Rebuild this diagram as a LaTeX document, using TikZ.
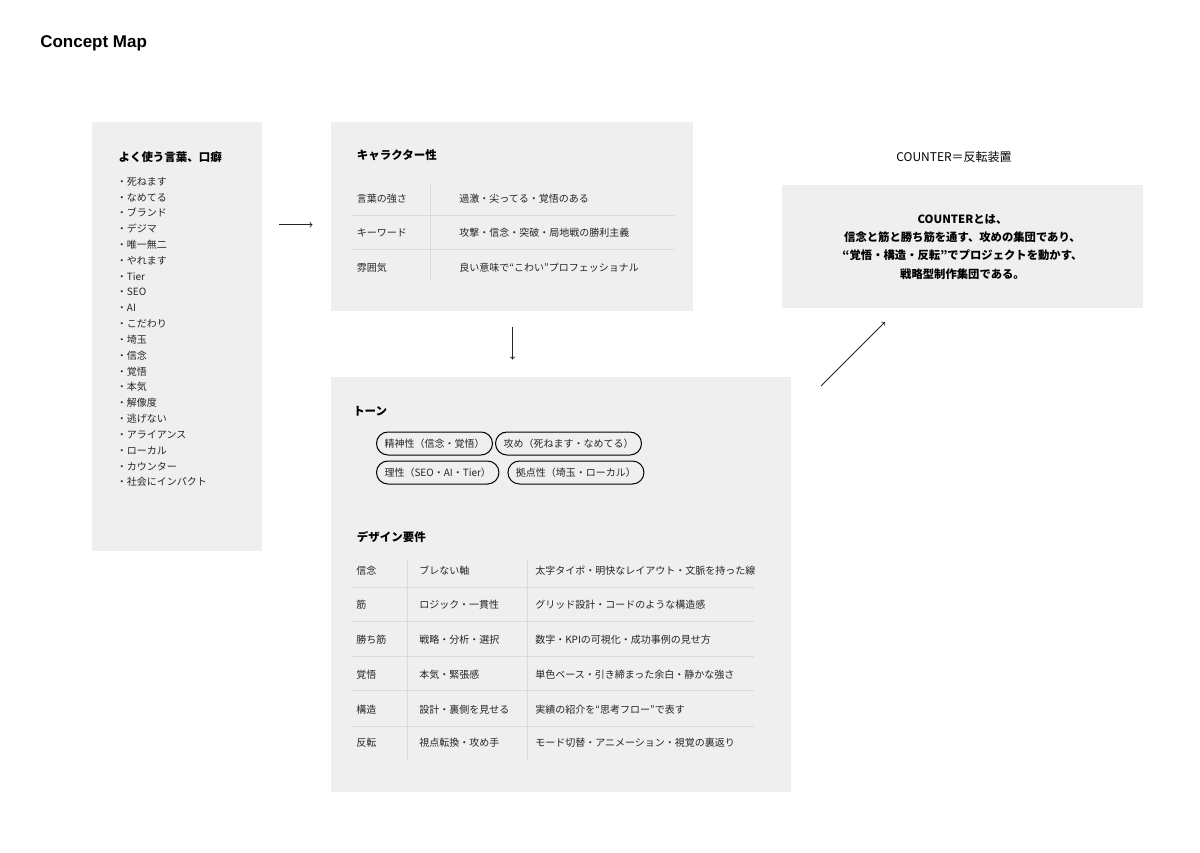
\documentclass[tikz,border=0pt]{standalone}
\usepackage{fontspec}
\setmainfont{Noto Sans CJK JP}
\newfontfamily\titlefont{Liberation Sans}
\usetikzlibrary{positioning}
\definecolor{panelgray}{HTML}{EFEFEF}
\definecolor{rulegray}{HTML}{DADADA}
\definecolor{inkgray}{HTML}{262626}

\tikzset{
  panel/.style={fill=panelgray,inner sep=0,anchor=north west},
  head/.style={font=\bfseries\fontsize{8.6}{10}\selectfont,text height=7.3pt,text depth=0.85pt,inner sep=0,anchor=west},
  cell/.style={font=\fontsize{7.5}{9}\selectfont,text=inkgray,text height=6.4pt,text depth=0.75pt,inner sep=0,anchor=west},
  wordlist/.style={font=\fontsize{7.5}{11.87}\selectfont,text=inkgray,align=left,inner sep=0,anchor=north west},
  pill/.style={draw,line width=0.75pt,rounded corners=8.6pt,minimum height=17.25pt,inner xsep=6pt,inner ysep=0,font=\fontsize{7.5}{9}\selectfont,text=inkgray},
  rule/.style={draw=rulegray,line width=0.6pt},
  flow/.style={->,color=inkgray,line width=0.6pt}
}

\begin{document}
\begin{tikzpicture}[x=0.75pt,y=-0.75pt]
  \useasboundingbox (0,0) rectangle (1200,853);
  \node[font=\titlefont\bfseries\fontsize{12.75}{15}\selectfont,inner sep=0,anchor=base west] (title) at (40,47.3) {Concept Map};

  % panels
  \node[panel,minimum width=127.5pt,minimum height=321.75pt] (words) at (92,122) {};
  \node[panel,minimum width=271.5pt,minimum height=141.75pt] (chara) at (331,122) {};
  \node[panel,minimum width=270.75pt,minimum height=92.25pt] (counter) at (782,185) {};
  \node[panel,minimum width=345pt,minimum height=311.25pt] (tone) at (331,377) {};

  % words
  \node[head] (wordshead) at (118.3,157.3) {よく使う言葉、口癖};
  \node[wordlist] (wordsitems) at (116.7,177) {・死ねます\\・なめてる\\・ブランド\\・デジマ\\・唯一無二\\・やれます\\・Tier\\・SEO\\・AI\\・こだわり\\・埼玉\\・信念\\・覚悟\\・本気\\・解像度\\・逃げない\\・アライアンス\\・ローカル\\・カウンター\\・社会にインパクト};

  % character
  \node[head] (charahead) at (356.7,155.5) {キャラクター性};
  \draw[rule] (351,215.7) -- (675,215.7) (351,249) -- (675,249) (430.7,185) -- (430.7,280);
  \node[cell] (power) at (356.7,199) {言葉の強さ};
  \node[cell] (powerv) at (459,199) {過激・尖ってる・覚悟のある};
  \node[cell] (keyword) at (356.7,233) {キーワード};
  \node[cell] (keywordv) at (459,233) {攻撃・信念・突破・局地戦の勝利主義};
  \node[cell] (mood) at (356.7,267.7) {雰囲気};
  \node[cell] (moodv) at (459,267.7) {良い意味で“こわい”プロフェッショナル};

  % counter
  \node[font=\fontsize{9}{11}\selectfont,inner sep=0] (countertitle) at (954,156.7) {COUNTER＝反転装置};
  \node[font=\bfseries\fontsize{8.5}{13.8}\selectfont,align=center,inner sep=0] (counterbody) at (962.5,246.7) {COUNTERとは、\\信念と筋と勝ち筋を通す、攻めの集団であり、\\“覚悟・構造・反転”でプロジェクトを動かす、\\戦略型制作集団である。};

  % tone
  \node[head] (tonehead) at (353,410.7) {トーン};
  \node[pill,anchor=west] (spirit) at (376,443.5) {精神性（信念・覚悟）};
  \node[pill,right=1.5pt of spirit] (attack) {攻め（死ねます・なめてる）};
  \node[pill,below=3.75pt of spirit.south west,anchor=north west] (reason) {理性（SEO・AI・Tier）};
  \node[pill,right=6pt of reason] (base) {拠点性（埼玉・ローカル）};

  % design
  \node[head] (designhead) at (356.7,536.7) {デザイン要件};
  \draw[rule] (350.7,587.7) -- (754,587.7) (350.7,621.7) -- (754,621.7) (350.7,656.7) -- (754,656.7)
    (350.7,690.7) -- (754,690.7) (350.7,726) -- (754,726) (407.7,560) -- (407.7,760) (527.7,560) -- (527.7,760);
  \node[cell] (belief) at (356,570.7) {信念};
  \node[cell] (beliefaim) at (419,570.7) {ブレない軸};
  \node[cell] (beliefdesign) at (535,570.7) {太字タイポ・明快なレイアウト・文脈を持った線};
  \node[cell] (logic) at (356,605) {筋};
  \node[cell] (logicaim) at (419,605) {ロジック・一貫性};
  \node[cell] (logicdesign) at (535,605) {グリッド設計・コードのような構造感};
  \node[cell] (winning) at (356,640) {勝ち筋};
  \node[cell] (winningaim) at (419,640) {戦略・分析・選択};
  \node[cell] (winningdesign) at (535,640) {数字・KPIの可視化・成功事例の見せ方};
  \node[cell] (resolve) at (356,675) {覚悟};
  \node[cell] (resolveaim) at (419,675) {本気・緊張感};
  \node[cell] (resolvedesign) at (535,675) {単色ベース・引き締まった余白・静かな強さ};
  \node[cell] (frame) at (356,710) {構造};
  \node[cell] (frameaim) at (419,710) {設計・裏側を見せる};
  \node[cell] (framedesign) at (535,710) {実績の紹介を“思考フロー”で表す};
  \node[cell] (flip) at (356,742.7) {反転};
  \node[cell] (flipaim) at (419,742.7) {視点転換・攻め手};
  \node[cell] (flipdesign) at (535,742.7) {モード切替・アニメーション・視覚の裏返り};

  % arrows
  \coordinate (toChara1) at (279,224.7);
  \coordinate (toChara2) at (312.5,224.7);
  \coordinate (toTone1) at (512.5,326.7);
  \coordinate (toTone2) at (512.5,359.5);
  \coordinate (toCounter1) at (821,386);
  \coordinate (toCounter2) at (885,322);
  \path[flow]
  (toChara1) edge (toChara2)
  (toTone1) edge (toTone2)
  (toCounter1) edge (toCounter2);
\end{tikzpicture}
\end{document}
